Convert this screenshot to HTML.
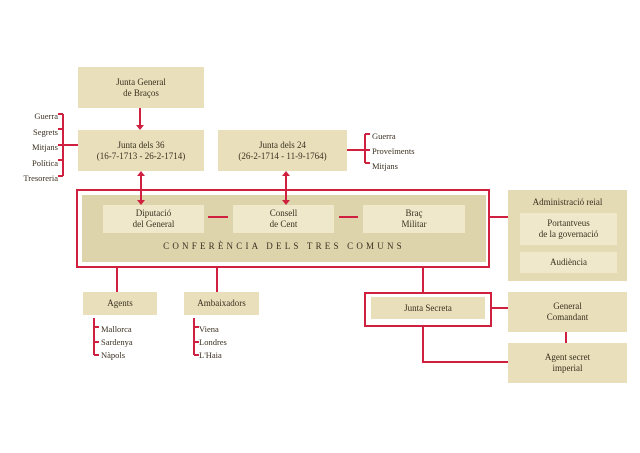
<!DOCTYPE html>
<html><head><meta charset="utf-8"><style>
body{margin:0;width:640px;height:453px;background:#fff;position:relative;overflow:hidden;font-family:"Liberation Serif",serif;color:#3a3020}
.b{position:absolute;background:#e9e0bb;display:flex;align-items:center;justify-content:center;text-align:center;font-size:9px;line-height:11px}
.i{background:#efe8cb}
.t{position:absolute;font-size:8.5px;line-height:10px}
svg{position:absolute;left:0;top:0}
</style></head><body>
<div class="b" style="left:78px;top:67px;width:126px;height:41px">Junta General<br>de Braços</div>
<div class="b" style="left:78px;top:130px;width:126px;height:41px">Junta dels 36<br>(16-7-1713 - 26-2-1714)</div>
<div class="b" style="left:218px;top:130px;width:129px;height:41px">Junta dels 24<br>(26-2-1714 - 11-9-1764)</div>
<div class="b" style="left:82px;top:195px;width:404px;height:67px;background:#ddd4ac"></div>
<div class="b i" style="left:103px;top:205px;width:101px;height:28px">Diputació<br>del General</div>
<div class="b i" style="left:233px;top:205px;width:101px;height:28px">Consell<br>de Cent</div>
<div class="b i" style="left:363px;top:205px;width:102px;height:28px">Braç<br>Militar</div>
<div class="t" style="left:82px;top:241px;width:404px;text-align:center;letter-spacing:3.2px;font-size:9px">CONFERÈNCIA DELS TRES COMUNS</div>
<div class="b" style="left:508px;top:190px;width:119px;height:91px;background:#e4dbb5;align-items:flex-start;padding-top:7px;box-sizing:border-box">Administració reial</div>
<div class="b i" style="left:520px;top:213px;width:97px;height:32px">Portantveus<br>de la governació</div>
<div class="b i" style="left:520px;top:252px;width:97px;height:21px">Audiència</div>
<div class="b" style="left:83px;top:292px;width:74px;height:23px">Agents</div>
<div class="b" style="left:184px;top:292px;width:75px;height:23px">Ambaixadors</div>
<div class="b" style="left:371px;top:297px;width:114px;height:22px">Junta Secreta</div>
<div class="b" style="left:508px;top:292px;width:119px;height:40px">General<br>Comandant</div>
<div class="b" style="left:508px;top:343px;width:119px;height:40px">Agent secret<br>imperial</div>
<div class="t" style="left:0;top:109px;width:58px;text-align:right;line-height:15.5px">Guerra<br>Segrets<br>Mitjans<br>Política<br>Tresoreria</div>
<div class="t" style="left:372px;top:129px;line-height:15px">Guerra<br>Proveïments<br>Mitjans</div>
<div class="t" style="left:101px;top:323px;line-height:13px">Mallorca<br>Sardenya<br>Nàpols</div>
<div class="t" style="left:199px;top:323px;line-height:13px">Viena<br>Londres<br>L'Haia</div>
<svg width="640" height="453" fill="none" stroke="#d0203f" stroke-width="2">
<rect x="77" y="190" width="412" height="77"/>
<rect x="365" y="293" width="126" height="33"/>
<path d="M140 108V126M286 175V201M141 175V201"/>
<path d="M63 114V176M58 114H63M58 129H63M58 145H63M58 160H63M58 176H63M63 145H78"/>
<path d="M365 134V163M365 134H370M365 150H370M365 163H370M347 150H365"/>
<path d="M208 217H228M339 217H358M489 217H508"/>
<path d="M117 267V292M217 267V292M423 267V293M491 308H508M566 332V343M423 326V362H508"/>
<path d="M94 318V355M94 327H99M94 342H99M94 355H99M194 318V355M194 327H199M194 342H199M194 355H199"/>
<g fill="#d0203f" stroke="none">
<path d="M136 125L144 125L140 130Z"/>
<path d="M137 176L145 176L141 171Z"/><path d="M137 200L145 200L141 205Z"/>
<path d="M282 176L290 176L286 171Z"/><path d="M282 200L290 200L286 205Z"/>
</g>
</svg>
</body></html>
